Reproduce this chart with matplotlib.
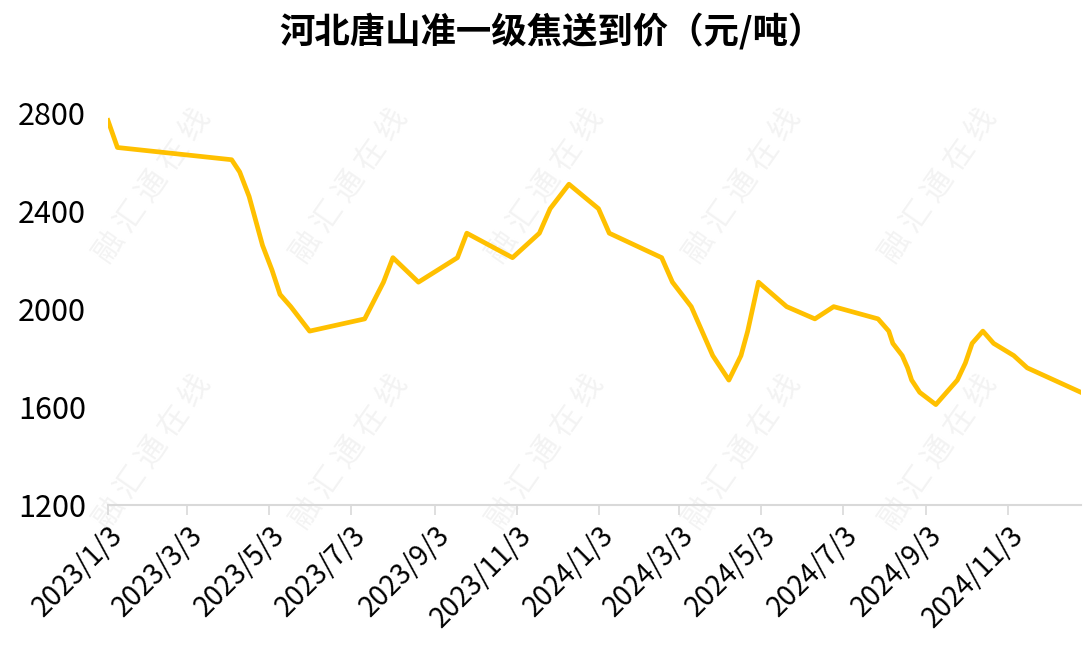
import matplotlib
matplotlib.use("Agg")
from matplotlib import pyplot as plt
import pandas as pd

plt.rcParams['font.family'] = ['Noto Sans CJK SC', 'DejaVu Sans']

# 日期与价格（元/吨）
dates = ["2023-01-03", "2023-01-10", "2023-04-05", "2023-04-11", "2023-04-18",
         "2023-04-28", "2023-05-05", "2023-05-11", "2023-05-19", "2023-06-02",
         "2023-07-13", "2023-07-27", "2023-08-03", "2023-08-22", "2023-09-20",
         "2023-09-27", "2023-10-31", "2023-11-20", "2023-11-28", "2023-12-12",
         "2024-01-03", "2024-01-11", "2024-02-19", "2024-02-27", "2024-03-12",
         "2024-03-28", "2024-04-09", "2024-04-18", "2024-04-23", "2024-05-01",
         "2024-05-22", "2024-06-12", "2024-06-26", "2024-07-29", "2024-08-06",
         "2024-08-09", "2024-08-16", "2024-08-20", "2024-08-23", "2024-08-29",
         "2024-09-10", "2024-09-18", "2024-09-26", "2024-10-02", "2024-10-07",
         "2024-10-15", "2024-10-23", "2024-11-07", "2024-11-17", "2024-12-07",
         "2024-12-27"]
prices = [2770, 2660, 2610, 2560, 2460, 2260, 2160, 2060, 2010, 1910,
          1960, 2110, 2210, 2110, 2210, 2310, 2210, 2310, 2410, 2510,
          2410, 2310, 2210, 2110, 2010, 1810, 1710, 1810, 1910, 2110,
          2010, 1960, 2010, 1960, 1910, 1860, 1810, 1760, 1710, 1660,
          1610, 1660, 1710, 1780, 1860, 1910, 1860, 1810, 1760, 1710,
          1660]
tick_dates = ["2023-01-03", "2023-03-03", "2023-05-03", "2023-07-03", "2023-09-03",
              "2023-11-03", "2024-01-03", "2024-03-03", "2024-05-03", "2024-07-03",
              "2024-09-03", "2024-11-03"]
tick_labels = ["2023/1/3", "2023/3/3", "2023/5/3", "2023/7/3", "2023/9/3",
               "2023/11/3", "2024/1/3", "2024/3/3", "2024/5/3", "2024/7/3",
               "2024/9/3", "2024/11/3"]
yticks = [1200, 1600, 2000, 2400, 2800]

x = pd.to_datetime(dates)
xt = pd.to_datetime(tick_dates)

fig = plt.figure(figsize=(10.92, 6.64), dpi=100)

# 水印（放在最底层）
for wx in [0.14, 0.32, 0.50, 0.68, 0.86]:
    for wy in [0.72, 0.32]:
        fig.text(wx, wy, "融 汇 通 在 线", rotation=55, fontsize=22, color="#f3f3f3",
                 ha="center", va="center", zorder=-5)

ax = fig.add_axes([0.0989, 0.2395, 0.891, 0.590])
ax.plot(x, prices, color="#FFC000", linewidth=3.4, solid_joinstyle="round", zorder=3)

ax.set_xlim(x[0], x[-1])
ax.set_ylim(1200, 2800)
ax.set_yticks(yticks)
ax.set_xticks(xt)
ax.set_xticklabels(tick_labels, rotation=45, ha="right", rotation_mode="anchor", fontsize=20)
ax.tick_params(axis="y", length=0, labelsize=22, pad=16)
ax.tick_params(axis="x", length=7, width=1.2, color="#d9d9d9", pad=4)
for s in ["top", "right", "left"]:
    ax.spines[s].set_visible(False)
ax.spines["bottom"].set_color("#d9d9d9")
ax.spines["bottom"].set_linewidth(1.5)
ax.patch.set_alpha(0)

fig.text(0.505, 0.953, "河北唐山准一级焦送到价（元/吨）", ha="center", va="center",
         fontsize=25.5, fontweight="bold")

plt.savefig("out.png", dpi=100)
